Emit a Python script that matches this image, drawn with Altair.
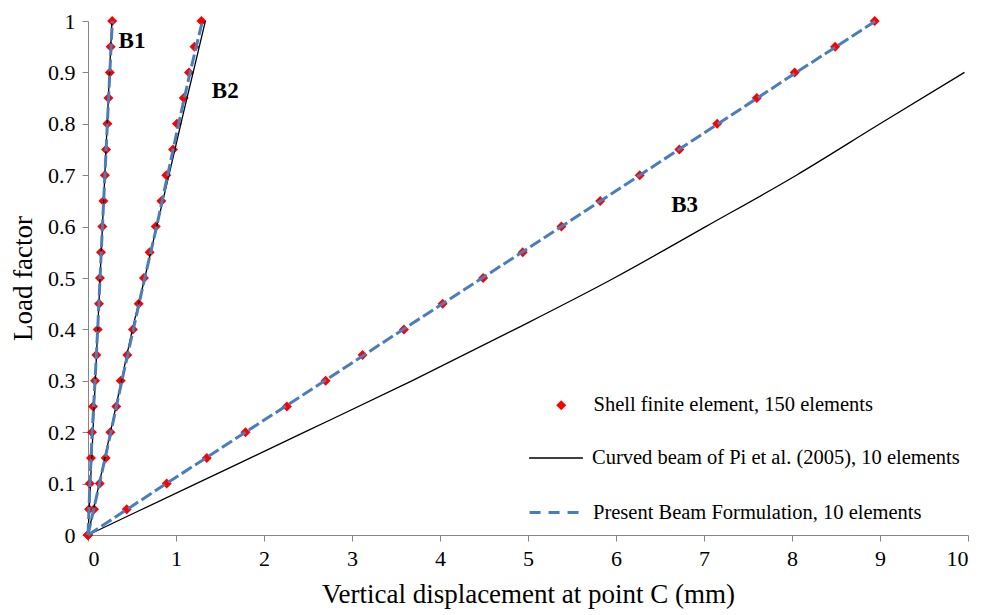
import altair as alt
import pandas as pd

S_SHELL = "Shell finite element, 150 elements"
S_PI = "Curved beam of Pi et al. (2005), 10 elements"
S_PRES = "Present Beam Formulation, 10 elements"

# Shell finite element results (load factor step 0.05)
shell_load = [0, 0.05, 0.1, 0.15, 0.2, 0.25, 0.3, 0.35, 0.4, 0.45, 0.5,
              0.55, 0.6, 0.65, 0.7, 0.75, 0.8, 0.85, 0.9, 0.95, 1.0]
shell_b1 = [0, 0.012, 0.02, 0.034, 0.045, 0.057, 0.08, 0.095, 0.11, 0.125, 0.136,
            0.148, 0.163, 0.175, 0.192, 0.205, 0.22, 0.232, 0.248, 0.258, 0.275]
shell_b2 = [0, 0.068, 0.133, 0.201, 0.254, 0.322, 0.372, 0.447, 0.511, 0.576, 0.636,
            0.70, 0.77, 0.834, 0.89, 0.966, 1.011, 1.088, 1.148, 1.21, 1.289]
shell_b3 = [0, 0.44, 0.895, 1.35, 1.79, 2.26, 2.70, 3.12, 3.59, 4.03, 4.49,
            4.94, 5.38, 5.82, 6.27, 6.72, 7.15, 7.60, 8.03, 8.49, 8.94]

# Beam curves (load factor step 0.1)
line_load = [0, 0.1, 0.2, 0.3, 0.4, 0.5, 0.6, 0.7, 0.8, 0.9, 1.0]
pi_b1 = [0, 0.028, 0.056, 0.083, 0.11, 0.137, 0.164, 0.191, 0.218, 0.245, 0.272]
pi_b2 = [0, 0.127, 0.255, 0.38, 0.505, 0.645, 0.78, 0.92, 1.055, 1.195, 1.334]
pi_b3_load = [0, 0.1, 0.2, 0.3, 0.4, 0.5, 0.6, 0.7, 0.8, 0.9]
pi_b3 = [0, 1.23, 2.46, 3.68, 4.85, 5.98, 7.02, 8.05, 9.0, 9.96]
pres_b1 = [0, 0.022, 0.048, 0.08, 0.11, 0.137, 0.164, 0.192, 0.22, 0.248, 0.277]
pres_b2 = [0, 0.13, 0.26, 0.385, 0.515, 0.645, 0.78, 0.905, 1.03, 1.16, 1.30]
pres_b3 = [0, 0.89, 1.79, 2.69, 3.58, 4.48, 5.38, 6.27, 7.16, 8.05, 8.95]

# Beam labels
lab_text = ["B1", "B2", "B3"]
lab_x = [0.50, 1.56, 6.78]
lab_y = [0.961, 0.864, 0.642]

rows = []
for b, xs in (("B1", shell_b1), ("B2", shell_b2), ("B3", shell_b3)):
    for l, x in zip(shell_load, xs):
        rows.append({"x": x, "load": l, "beam": b, "series": S_SHELL})
shell_df = pd.DataFrame(rows)

rows = []
for b, ls, xs in (("B1", line_load, pi_b1), ("B2", line_load, pi_b2), ("B3", pi_b3_load, pi_b3)):
    for l, x in zip(ls, xs):
        rows.append({"x": x, "load": l, "beam": b, "series": S_PI})
pi_df = pd.DataFrame(rows)

rows = []
for b, xs in (("B1", pres_b1), ("B2", pres_b2), ("B3", pres_b3)):
    for l, x in zip(line_load, xs):
        rows.append({"x": x, "load": l, "beam": b, "series": S_PRES})
pres_df = pd.DataFrame(rows)

lab_df = pd.DataFrame({"text": lab_text, "x": lab_x, "load": lab_y})

FONT = "Liberation Serif"
BLUE = "#4a7ebb"

xenc = alt.X("x:Q", scale=alt.Scale(domain=[0, 10], nice=False),
             axis=alt.Axis(values=list(range(0, 11)), title="Vertical displacement at point C (mm)",
                           format="~g", grid=False, titlePadding=12))
yenc = alt.Y("load:Q", scale=alt.Scale(domain=[0, 1], nice=False),
             axis=alt.Axis(values=[i / 10 for i in range(11)], title="Load factor",
                           format="~g", grid=False, titlePadding=10))


def leg(x, y, **kw):
    return alt.Legend(title=None, orient="none", legendX=x, legendY=y,
                      labelFont=FONT, labelFontSize=20.5, labelColor="black", labelLimit=0,
                      rowPadding=0, padding=0, **kw)


points = alt.Chart(shell_df).mark_point(shape="diamond", filled=True, size=100, opacity=1).encode(
    x=xenc, y=yenc,
    color=alt.Color("series:N", scale=alt.Scale(domain=[S_SHELL], range=["#ff0000"]),
                    legend=leg(463, 374, symbolType="diamond", symbolSize=100,
                               symbolOpacity=1, labelOffset=22)),
)

pi_lines = alt.Chart(pi_df).mark_line(strokeWidth=1.3, interpolate="monotone").encode(
    x="x:Q", y="load:Q", detail="beam:N", order="load:Q",
    color=alt.Color("series:N", scale=alt.Scale(domain=[S_PI], range=["#000000"]),
                    legend=leg(440, 409, symbolType="stroke", symbolSize=2900,
                               symbolStrokeWidth=1.3, labelOffset=8)),
)

pres_lines = alt.Chart(pres_df).mark_line(strokeWidth=3, strokeDash=[12, 4]).encode(
    x="x:Q", y="load:Q", detail="beam:N", order="load:Q",
    color=alt.Color("series:N", scale=alt.Scale(domain=[S_PRES], range=[BLUE]),
                    legend=leg(440, 463, symbolType="stroke", symbolSize=2900,
                               symbolStrokeWidth=3, symbolDash=[11, 8], labelOffset=8)),
)

labels = alt.Chart(lab_df).mark_text(font=FONT, fontSize=23, fontWeight="bold", color="black").encode(
    x="x:Q", y="load:Q", text="text:N")

chart = alt.layer(points, pi_lines, pres_lines, labels).resolve_scale(
    color="independent"
).properties(
    width=880, height=514,
    autosize=alt.AutoSizeParams(type="none"),
    padding={"left": 88, "top": 21, "right": 13, "bottom": 80},
    background="white",
).configure_view(stroke=None).configure_axis(
    labelFont=FONT, titleFont=FONT, labelFontSize=22, titleFontSize=27,
    labelColor="black", titleColor="black", titleFontWeight="normal",
    domainColor="#868686", tickColor="#868686", tickSize=6, labelPadding=7,
)

chart.save("out.html", embed_options={"renderer": "svg", "actions": False})
